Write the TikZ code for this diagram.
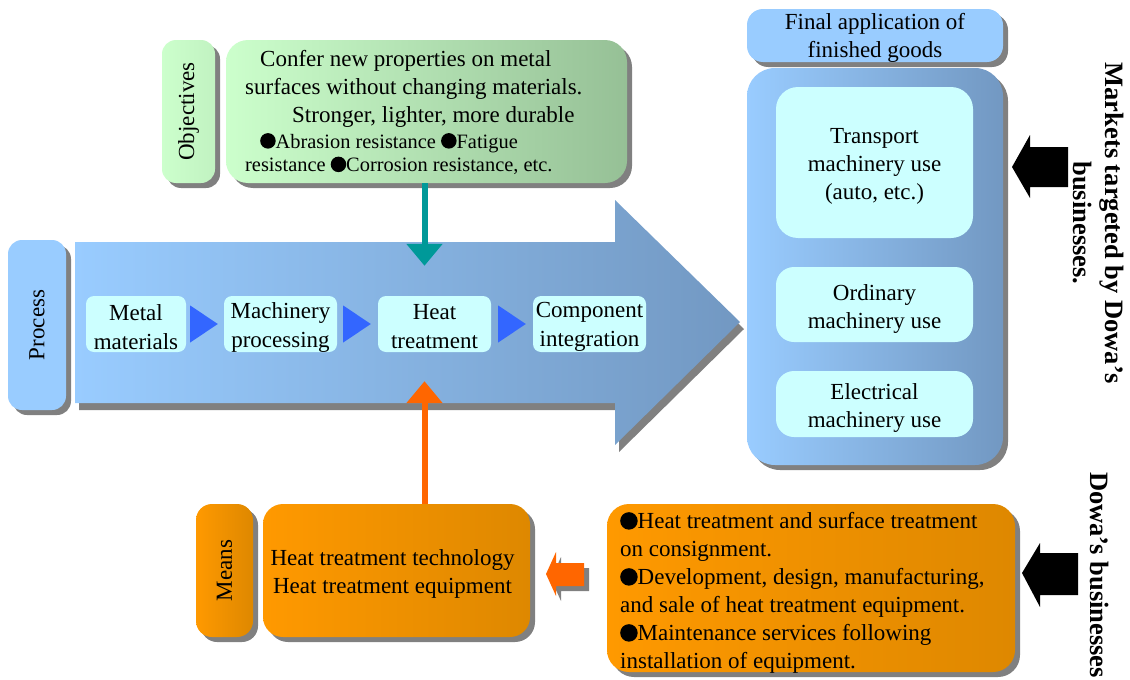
\documentclass[tikz,border=0pt]{standalone}
\usepackage{fontspec}
\usepackage{graphicx}
\setmainfont{Liberation Serif}
\usetikzlibrary{shadows,arrows.meta,calc}
\definecolor{lblue}{RGB}{153,204,255}
\definecolor{sblue}{RGB}{114,152,194}
\definecolor{lcyan}{RGB}{204,255,255}
\definecolor{tblue}{RGB}{51,102,255}
\definecolor{tealc}{RGB}{0,153,153}
\definecolor{oarrow}{RGB}{255,102,0}
\definecolor{or1}{RGB}{255,153,0}
\definecolor{or2}{RGB}{222,136,0}
\definecolor{gr1}{RGB}{204,255,204}
\definecolor{gr2}{RGB}{150,192,150}
\definecolor{shd}{RGB}{128,128,128}
\newcommand\fsmain{\fontsize{23}{28}\selectfont}
\newcommand\fsproc{\fontsize{23}{29}\selectfont}
\newcommand\fssmall{\fontsize{20.4}{23}\selectfont}
\newcommand\fsbig{\bfseries\fontsize{26.5}{32}\selectfont}
\newcommand\bdot{\tikz[baseline=0pt,x=1pt,y=1pt]{\fill[black] (0,0.35em) circle[radius=0.38em];}}
\tikzset{
  sh/.style={drop shadow={shadow xshift=5pt,shadow yshift=-5pt,fill=shd,opacity=1}},
  rbox/.style={inner sep=0pt, align=center, font=\fsmain, text=black},
  bluebox/.style={rbox, fill=lblue, sh},
  cyanbox/.style={rbox, fill=lcyan},
  greenbox/.style={rbox, left color=gr1, right color=gr2, sh},
  orangebox/.style={rbox, left color=or1, right color=or2, sh},
  steelbox/.style={rbox, left color=lblue, right color=sblue, sh},
  tx/.style={inner sep=0pt, align=center, font=\fsmain},
  conn/.style={line width=6pt, -{Triangle[width=35pt,length=22pt]}},
  objtxt/.style={anchor=base west, inner sep=0pt, font=\fsmain},
  objsmall/.style={anchor=base west, inner sep=0pt, font=\fssmall},
  vtext/.style={rotate=-90, align=center, font=\fsbig, inner sep=0pt}
}
\begin{document}
\begin{tikzpicture}[x=1pt,y=-1pt]
\useasboundingbox (0,0) rectangle (1130,680);

% ---------- big process arrow ----------
\fill[shd] (79,249)--(619,249)--(619,207)--(744,329)--(619,452)--(619,410)--(79,410)--cycle;
\shade[left color=lblue,right color=sblue] (75,242)--(615,242)--(615,200)--(740,322)--(615,445)--(615,403)--(75,403)--cycle;

% ---------- objectives ----------
\node[greenbox, left color=gr1, right color=gr1!80!gr2, rounded corners=14pt,
      minimum width=53pt, minimum height=143pt] (objlab) at (188.5,111.5) {\rotatebox{90}{Objectives}};
\node[greenbox, rounded corners=22pt, minimum width=401pt, minimum height=143pt] (objmain) at (426.5,111.5) {};
\node[objtxt] (obj1) at (260,66) {Confer new properties on metal};
\node[objtxt] (obj2) at (245,94.5) {surfaces without changing materials.};
\node[objtxt] (obj3) at (292,122.5) {Stronger, lighter, more durable};
\node[objsmall] (obj4) at (260,148) {\bdot Abrasion resistance \bdot Fatigue};
\node[objsmall] (obj5) at (245,171.5) {resistance \bdot Corrosion resistance, etc.};

% ---------- process ----------
\node[bluebox, rounded corners=14pt, minimum width=58pt, minimum height=170pt] (proclab) at (37,325) {\rotatebox{90}{Process}};
\node[cyanbox, rounded corners=8pt, minimum width=100pt, minimum height=56pt] (metal) at (136,324) {};
\node[cyanbox, rounded corners=8pt, minimum width=113pt, minimum height=56pt] (mach) at (280.5,324) {};
\node[cyanbox, rounded corners=8pt, minimum width=113pt, minimum height=56pt] (heat) at (434.5,324) {};
\node[cyanbox, rounded corners=8pt, minimum width=113pt, minimum height=56pt] (comp) at (589.5,324) {};
\node[tx, font=\fsproc] (metalT) at ([yshift=-3pt]metal.center) {Metal\\materials};
\node[tx, font=\fsproc] (machT) at ([yshift=-3pt]mach.center) {Machinery\\processing};
\node[tx, font=\fsproc] (heatT) at ([yshift=-3pt]heat.center) {Heat\\treatment};
\node[tx, font=\fsproc] (compT) at ([yshift=-3pt]comp.center) {Component\\integration};
\fill[tblue] ($(metal.east)+(4,-18.5)$) -- ($(metal.east)+(4,18.5)$) -- ($(mach.west)+(-6,0)$) -- cycle;
\fill[tblue] ($(mach.east)+(6,-18.5)$) -- ($(mach.east)+(6,18.5)$) -- ($(heat.west)+(-7,0)$) -- cycle;
\fill[tblue] ($(heat.east)+(7,-18.5)$) -- ($(heat.east)+(7,18.5)$) -- ($(comp.west)+(-7,0)$) -- cycle;

% ---------- final application ----------
\node[bluebox, rounded corners=16pt, minimum width=256pt, minimum height=53pt] (header) at (875,35.5) {};
\node[tx] (headerT) at ([yshift=-2pt]header.center) {Final application of\\finished goods};
\node[steelbox, rounded corners=28pt, minimum width=256pt, minimum height=397pt] (panel) at (875,266.5) {};
\node[cyanbox, rounded corners=22pt, minimum width=197pt, minimum height=151pt] (transport) at (874.5,162.5) {};
\node[cyanbox, rounded corners=18pt, minimum width=197pt, minimum height=75pt] (ordinary) at (874.5,304.5) {};
\node[cyanbox, rounded corners=18pt, minimum width=197pt, minimum height=66pt] (electrical) at (874.5,404) {};
\node[tx] (transportT) at ([yshift=-4pt]transport.center) {Transport\\machinery use\\(auto, etc.)};
\node[tx] (ordinaryT) at ([yshift=-4pt]ordinary.center) {Ordinary\\machinery use};
\node[tx] (electricalT) at ([yshift=-4pt]electrical.center) {Electrical\\machinery use};

% ---------- means ----------
\node[orangebox, rounded corners=16pt, minimum width=57pt, minimum height=133pt] (meanslab) at (224.5,570.5) {\rotatebox{90}{Means}};
\node[orangebox, rounded corners=20pt, minimum width=267pt, minimum height=133pt] (meansmain) at (396.5,570.5) {};
\node[tx] (meansT) at ([xshift=-4pt,yshift=-3pt]meansmain.center) {Heat treatment technology\\Heat treatment equipment};

% ---------- Dowa's businesses box ----------
\node[orangebox, rounded corners=22pt, minimum width=408pt, minimum height=168pt] (dowabox) at (811,588) {};
\node[align=left, anchor=west, inner sep=0pt, font=\fsmain] (dowatxt) at (620,593) {\bdot Heat treatment and surface treatment\\on consignment.\\\bdot Development, design, manufacturing,\\and sale of heat treatment equipment.\\\bdot Maintenance services following\\installation of equipment.};

% ---------- connectors ----------
\coordinate (tipT) at ([xshift=-10pt,yshift=30pt]heat.north);
\coordinate (tipB) at ([xshift=-10pt,yshift=-29pt]heat.south);
\draw[conn, tealc] (objmain.south -| tipT) -- (tipT);
\draw[conn, oarrow] (meansmain.north -| tipB) -- (tipB);

% small orange block arrow with shadow
\fill[shd] (551,579)--(561,557)--(561,568)--(589,568)--(589,591)--(561,591)--(561,601)--cycle;
\fill[oarrow] (546,574)--(556,552)--(556,563)--(584,563)--(584,586)--(556,586)--(556,596)--cycle;

% black block arrows
\fill[black] (1012,167)--(1030,135)--(1030,147)--(1068,147)--(1068,187)--(1030,187)--(1030,198)--cycle;
\fill[black] (1022,573)--(1040,543)--(1040,553)--(1078,553)--(1078,595)--(1040,595)--(1040,607)--cycle;

% ---------- side texts ----------
\node[vtext] (mkt) at (1098,223) {Markets targeted by Dowa’s\\businesses.};
\node[vtext] (dowa) at (1100,575) {Dowa’s businesses};
\end{tikzpicture}
\end{document}
